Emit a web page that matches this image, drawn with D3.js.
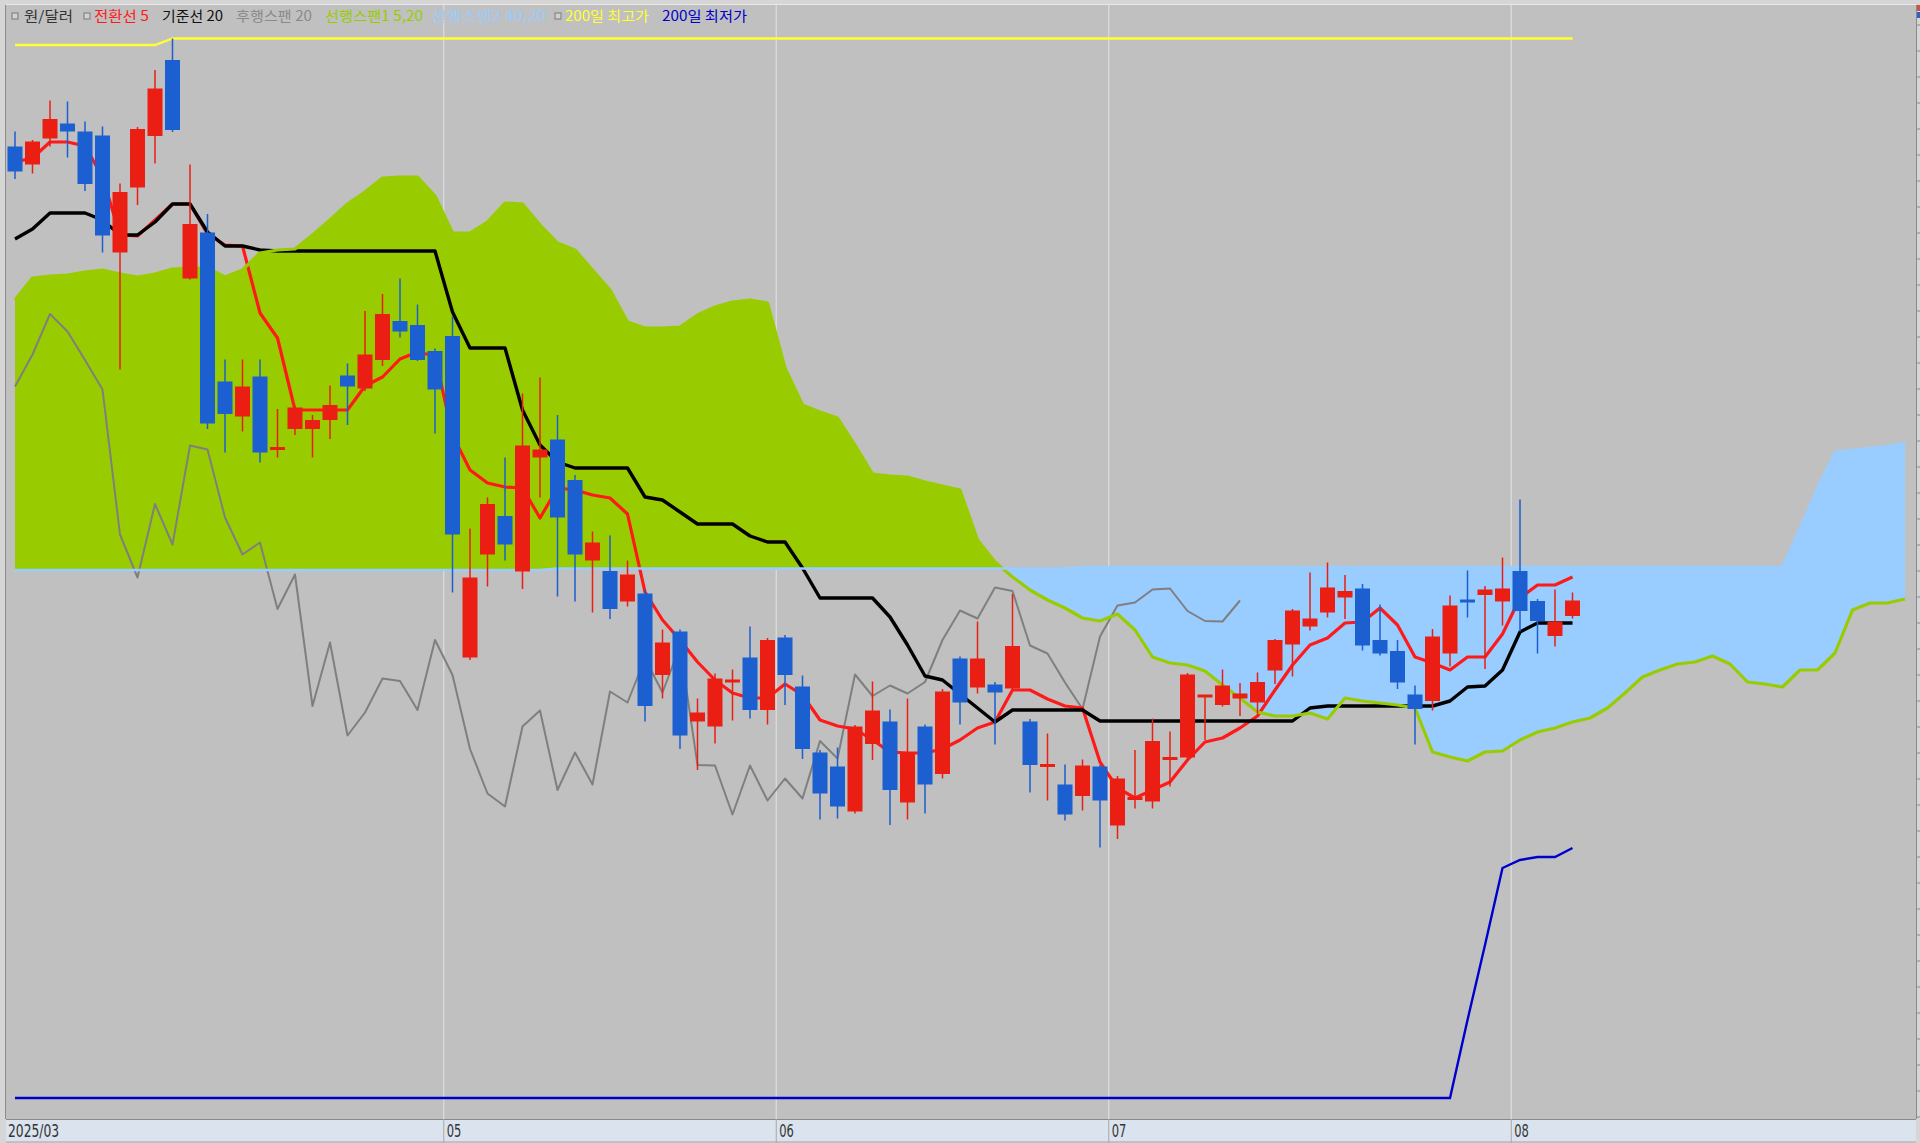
<!DOCTYPE html>
<html><head><meta charset="utf-8">
<script src="https://cdn.jsdelivr.net/npm/d3@7"></script>
<style>html,body{margin:0;padding:0;background:#d6d6d6;overflow:hidden}svg{display:block}</style>
</head><body><svg id="c" width="1920" height="1143"></svg>
<script>
// ---------------- DATA (USD/KRW daily) ----------------
const opens = [1471.9,1468.3,1473.5,1476.5,1474.9,1474.1,1450.7,1463.7,1474.0,1489.2,
1445.5,1454.7,1424.9,1417.9,1425.9,1411.0,1415.4,1415.4,1417.2,1426.1,
1423.5,1429.2,1437.0,1436.2,1431.0,1434.0,1369.7,1390.3,1398.0,1386.9,
1409.7,1413.3,1405.2,1389.1,1387.0,1380.9,1382.5,1366.2,1374.9,1356.9,
1355.9,1364.4,1369.7,1359.2,1373.7,1363.9,1350.7,1347.9,1338.9,1352.4,
1356.9,1340.7,1355.9,1346.4,1369.5,1363.7,1364.3,1363.5,1356.9,1347.7,
1344.3,1342.0,1347.9,1336.1,1340.9,1340.9,1349.0,1349.7,1361.5,1360.2,
1361.5,1360.7,1367.1,1372.3,1375.9,1378.7,1381.7,1383.5,1373.2,1371.0,
1362.3,1361.0,1370.5,1381.0,1382.2,1380.9,1387.0,1381.0,1374.0,1378.0];
const highs = [1474.9,1473.2,1481.1,1480.9,1476.9,1475.9,1464.5,1475.8,1487.2,1493.5,
1468.3,1458.4,1429.3,1429.3,1429.3,1419.4,1420.0,1418.2,1424.1,1428.5,
1439.0,1442.4,1445.5,1440.3,1431.5,1437.9,1395.5,1401.7,1409.7,1422.5,
1425.7,1418.2,1406.2,1394.9,1394.1,1389.1,1383.2,1375.3,1375.3,1361.5,
1366.5,1367.3,1375.9,1373.6,1374.2,1366.1,1351.2,1351.7,1356.2,1364.9,
1359.3,1361.5,1356.3,1363.4,1369.9,1376.9,1364.8,1382.4,1357.4,1354.5,
1348.3,1349.3,1348.2,1346.0,1351.2,1357.5,1354.9,1366.6,1362.2,1367.3,
1364.6,1366.7,1373.4,1379.4,1386.7,1388.7,1386.2,1384.4,1380.3,1373.2,
1364.1,1375.4,1382.1,1387.1,1384.0,1389.7,1401.3,1381.4,1383.3,1382.7];
const lows = [1465.4,1466.5,1471.9,1469.7,1463.0,1450.7,1427.3,1460.2,1468.5,1474.8,
1445.3,1415.4,1410.7,1414.9,1408.7,1409.7,1414.2,1409.7,1413.4,1416.2,
1423.0,1428.0,1433.7,1429.0,1414.5,1382.7,1369.2,1383.9,1389.1,1383.4,
1401.7,1381.9,1380.9,1378.7,1377.4,1379.9,1356.9,1361.5,1351.4,1347.2,
1352.5,1357.1,1357.5,1356.3,1360.2,1349.4,1337.3,1337.5,1338.5,1349.2,
1336.2,1337.3,1338.5,1345.5,1356.3,1362.5,1352.3,1363.2,1342.7,1341.1,
1337.1,1339.1,1331.7,1333.4,1339.5,1339.5,1343.9,1349.3,1353.2,1359.9,
1358.0,1358.5,1364.4,1365.9,1375.1,1377.7,1377.4,1371.1,1370.1,1363.4,
1352.3,1359.1,1367.9,1377.7,1367.4,1376.1,1374.9,1370.5,1371.9,1377.5];
const closes = [1466.9,1472.9,1477.4,1474.9,1464.4,1454.1,1462.8,1475.4,1483.5,1475.2,
1456.4,1416.5,1418.4,1423.9,1410.7,1411.5,1419.7,1417.2,1420.2,1423.9,
1430.3,1438.4,1434.9,1429.2,1423.3,1394.3,1385.7,1400.4,1392.3,1412.1,
1411.3,1397.7,1390.3,1392.7,1379.4,1386.3,1360.0,1372.7,1354.1,1358.7,
1365.5,1365.0,1359.2,1373.2,1366.2,1351.4,1342.5,1339.9,1355.9,1359.1,
1343.2,1350.7,1344.3,1362.9,1360.7,1369.5,1362.7,1372.0,1348.2,1348.1,
1338.3,1348.1,1341.1,1345.5,1341.5,1353.0,1349.5,1366.3,1362.0,1364.1,
1362.5,1364.8,1373.2,1379.1,1377.5,1383.7,1383.0,1372.1,1370.5,1364.7,
1359.4,1373.9,1380.1,1380.7,1383.3,1383.5,1379.0,1377.0,1376.9,1381.1];
// 전환선 5
const tenkan = [1468.8,1469.6,1472.8,1472.8,1472.0,1465.8,1454.2,1454.0,1457.2,1460.4,
1460.4,1454.4,1452.2,1452.0,1438.6,1433.6,1419.2,1419.2,1419.2,1419.2,
1424.0,1425.8,1429.4,1430.8,1430.0,1414.2,1407.2,1404.6,1403.8,1403.6,
1397.6,1403.6,1403.2,1402.2,1401.6,1398.4,1382.8,1377.2,1373.2,1368.8,
1365.2,1362.6,1361.6,1361.6,1364.4,1362.2,1357.2,1356.0,1355.4,1353.2,
1350.8,1350.6,1350.6,1351.4,1353.2,1355.6,1356.8,1363.2,1363.2,1361.4,
1360.0,1359.6,1348.8,1343.6,1341.6,1343.2,1344.8,1349.2,1352.8,1353.6,
1355.6,1358.0,1363.2,1368.2,1372.2,1373.6,1376.6,1376.8,1379.6,1376.2,
1369.8,1368.6,1367.2,1369.8,1369.8,1374.4,1381.6,1384.2,1384.2,1385.8];
// 기준선 20
const kijun = [1453.4,1455.4,1458.6,1458.6,1458.6,1457.2,1454.2,1454.2,1456.8,1460.4,
1460.4,1454.8,1452.0,1452.0,1451.2,1451.0,1451.0,1451.0,1451.0,1451.0,
1451.0,1451.0,1451.0,1451.0,1451.0,1438.8,1431.6,1431.6,1431.6,1419.2,
1412.2,1408.8,1407.6,1407.6,1407.6,1407.6,1401.8,1401.2,1398.8,1396.4,
1396.4,1396.4,1394.0,1392.8,1392.8,1387.6,1381.6,1381.6,1381.6,1381.6,
1377.8,1372.2,1366.0,1365.2,1362.4,1359.6,1356.8,1359.2,1359.2,1359.2,
1359.2,1359.2,1357.0,1357.0,1357.0,1357.0,1357.0,1357.0,1357.0,1357.0,
1357.0,1357.0,1357.0,1357.0,1359.6,1360.0,1360.0,1360.0,1360.0,1360.0,
1360.0,1360.0,1361.0,1363.8,1364.0,1367.2,1374.8,1376.6,1376.6,1376.6];
// 선행스팬1 (plotted 109 periods incl. forward shift)
const span1 = [1441.2,1445.6,1446.0,1446.2,1446.8,1447.2,1446.4,1445.8,1446.4,1447.4,
1447.6,1447.6,1445.8,1447.2,1450.6,1451.2,1451.4,1454.2,1457.2,1460.4,
1462.8,1465.6,1465.8,1465.8,1462.0,1454.6,1454.6,1456.8,1460.6,1460.4,
1456.2,1452.6,1451.2,1447.2,1443.2,1436.8,1435.6,1435.6,1435.8,1438.2,
1439.8,1440.8,1441.2,1440.6,1427.6,1420.2,1418.8,1417.6,1412.2,1406.4,
1406.0,1405.8,1404.8,1404.0,1403.2,1393.2,1388.8,1385.8,1383.2,1381.2,
1379.6,1377.6,1377.0,1378.4,1375.2,1369.8,1368.6,1368.2,1367.0,1364.2,
1361.6,1358.8,1358.0,1358.0,1358.6,1357.4,1361.6,1361.0,1360.6,1360.2,
1359.6,1350.8,1349.8,1349.0,1350.8,1351.0,1353.2,1354.8,1355.6,1356.8,
1357.6,1359.6,1362.6,1365.8,1367.2,1368.4,1368.8,1370.0,1368.4,1364.8,
1364.4,1363.8,1367.2,1367.2,1370.6,1379.2,1380.6,1380.6,1381.4];
// 선행스팬2
const span2 = [1387.2,1387.2,1387.2,1387.2,1387.2,1387.2,1387.2,1387.2,1387.2,1387.2,
1387.2,1387.2,1387.2,1387.2,1387.2,1387.2,1387.2,1387.2,1387.2,1387.2,
1387.2,1387.2,1387.2,1387.2,1387.2,1387.2,1387.2,1387.2,1387.2,1387.2,
1387.2,1387.5,1387.5,1387.5,1387.5,1387.5,1387.5,1387.5,1387.5,1387.5,
1387.5,1387.5,1387.5,1387.5,1387.5,1387.5,1387.5,1387.5,1387.5,1387.5,
1387.5,1387.5,1387.5,1387.5,1387.5,1387.5,1387.5,1387.5,1387.5,1387.5,
1387.5,1387.8,1387.8,1387.8,1387.8,1387.8,1387.8,1387.8,1387.8,1387.8,
1387.8,1387.8,1387.8,1387.8,1387.8,1387.8,1387.8,1387.8,1387.8,1387.8,
1387.8,1387.8,1387.8,1387.8,1387.8,1387.8,1387.8,1387.8,1387.8,1387.8,
1387.8,1387.8,1387.8,1387.8,1387.8,1387.8,1387.8,1387.8,1387.8,1387.8,
1387.8,1387.8,1395.6,1403.6,1410.8,1411.2,1411.6,1412.0,1412.6];
// 200일 최고가 / 최저가
const high200 = [1492.2,1492.2,1492.2,1492.2,1492.2,1492.2,1492.2,1492.2,1492.2,1493.5,
1493.5,1493.5,1493.5,1493.5,1493.5,1493.5,1493.5,1493.5,1493.5,1493.5,
1493.5,1493.5,1493.5,1493.5,1493.5,1493.5,1493.5,1493.5,1493.5,1493.5,
1493.5,1493.5,1493.5,1493.5,1493.5,1493.5,1493.5,1493.5,1493.5,1493.5,
1493.5,1493.5,1493.5,1493.5,1493.5,1493.5,1493.5,1493.5,1493.5,1493.5,
1493.5,1493.5,1493.5,1493.5,1493.5,1493.5,1493.5,1493.5,1493.5,1493.5,
1493.5,1493.5,1493.5,1493.5,1493.5,1493.5,1493.5,1493.5,1493.5,1493.5,
1493.5,1493.5,1493.5,1493.5,1493.5,1493.5,1493.5,1493.5,1493.5,1493.5,
1493.5,1493.5,1493.5,1493.5,1493.5,1493.5,1493.5,1493.5,1493.5,1493.5];
const low200 = [1281.6,1281.6,1281.6,1281.6,1281.6,1281.6,1281.6,1281.6,1281.6,1281.6,
1281.6,1281.6,1281.6,1281.6,1281.6,1281.6,1281.6,1281.6,1281.6,1281.6,
1281.6,1281.6,1281.6,1281.6,1281.6,1281.6,1281.6,1281.6,1281.6,1281.6,
1281.6,1281.6,1281.6,1281.6,1281.6,1281.6,1281.6,1281.6,1281.6,1281.6,
1281.6,1281.6,1281.6,1281.6,1281.6,1281.6,1281.6,1281.6,1281.6,1281.6,
1281.6,1281.6,1281.6,1281.6,1281.6,1281.6,1281.6,1281.6,1281.6,1281.6,
1281.6,1281.6,1281.6,1281.6,1281.6,1281.6,1281.6,1281.6,1281.6,1281.6,
1281.6,1281.6,1281.6,1281.6,1281.6,1281.6,1281.6,1281.6,1281.6,1281.6,
1281.6,1281.6,1281.6,1297.2,1312.2,1327.6,1329.2,1329.8,1329.8,1331.6];
const laggingShift = 19;   // 후행스팬: close plotted back
// x-axis month labels and index of first trading day of month
const monthLabels = ["2025/03","05","06","07","08"];
const monthStart  = [0,25,44,63,86];
// legend
const legendLabels = ["원/달러","전환선 5","기준선 20","후행스팬 20","선행스팬1 5,20","선행스팬2 40,20","200일 최고가","200일 최저가"];
const legendColors = ["#333333","#ff1a1a","#111111","#8a8a8a","#99cc00","#99ccff","#ffff33","#0000cc"];

// ---------------- LAYOUT ----------------
const svg = d3.select("#c");
const P = {left:6, right:1916, top:5, bottom:1119};
const nSlots = span1.length - 1;
const x = d3.scaleLinear().domain([0, nSlots]).range([15, 1905]);
const y = d3.scaleLinear().domain([1277.4, 1500]).range([P.bottom, 6]);
const step = x(1) - x(0);
const idx = n => d3.range(n);

svg.append("rect").attr("x",0).attr("y",0).attr("width",1920).attr("height",1143).attr("fill","#d6d6d6");
svg.append("rect").attr("x",P.left).attr("y",P.top).attr("width",P.right-P.left).attr("height",P.bottom-P.top)
  .attr("fill","#c0c0c0");

const defs = svg.append("defs");
defs.append("clipPath").attr("id","plotClip").append("rect")
  .attr("x",P.left).attr("y",P.top).attr("width",P.right-P.left).attr("height",P.bottom-P.top);
const g = svg.append("g").attr("clip-path","url(#plotClip)");

// vertical month grid lines
const gridX = monthStart.slice(1).map(i => x(i) - step/2);
g.selectAll("line.grid").data(gridX).join("line")
  .attr("x1",d=>d).attr("x2",d=>d).attr("y1",P.top).attr("y2",P.bottom)
  .attr("stroke","#dcdcdc").attr("stroke-width",1.3);

// ---- Ichimoku cloud ----
const ci = idx(span1.length);
defs.append("clipPath").attr("id","aboveS2").append("path")
  .attr("d", d3.area().x(i=>x(i)).y0(i=>y(span2[i])).y1(P.top)(ci));
defs.append("clipPath").attr("id","belowS2").append("path")
  .attr("d", d3.area().x(i=>x(i)).y0(i=>y(span2[i])).y1(P.bottom)(ci));
const between = d3.area().x(i=>x(i)).y0(i=>y(span2[i])).y1(i=>y(span1[i]));
g.append("g").attr("clip-path","url(#aboveS2)").append("path").attr("d",between(ci)).attr("fill","#99cc00");
g.append("g").attr("clip-path","url(#belowS2)").append("path").attr("d",between(ci)).attr("fill","#99ccff");

const lineOf = arr => d3.line().x((d,i)=>x(i)).y(d=>y(d))(arr);

// 후행스팬 (lagging)
const lag = closes.slice(laggingShift);
g.append("path").attr("d", lineOf(lag)).attr("fill","none").attr("stroke","#7f7f7f").attr("stroke-width",2).attr("stroke-linejoin","round");
// 전환선
g.append("path").attr("d", lineOf(tenkan)).attr("fill","none").attr("stroke","#ff1a1a").attr("stroke-width",3.2).attr("stroke-linejoin","round");
// 기준선
g.append("path").attr("d", lineOf(kijun)).attr("fill","none").attr("stroke","#000").attr("stroke-width",3.4).attr("stroke-linejoin","round");
// 선행스팬 lines
g.append("path").attr("d", lineOf(span1)).attr("fill","none").attr("stroke","#99cc00").attr("stroke-width",3.2).attr("stroke-linejoin","round");
g.append("path").attr("d", lineOf(span2)).attr("fill","none").attr("stroke","#99ccff").attr("stroke-width",2.6);
// 200일 최고/최저
g.append("path").attr("d", lineOf(high200)).attr("fill","none").attr("stroke","#ffff33").attr("stroke-width",2.4);
g.append("path").attr("d", lineOf(low200)).attr("fill","none").attr("stroke","#0000cc").attr("stroke-width",2.4);

// ---- candles ----
const up = "#ea1e12", dn = "#1b5fd0";
const cd = idx(opens.length);
const col = i => closes[i] >= opens[i] ? up : dn;
g.selectAll("line.wick").data(cd).join("line")
  .attr("x1",i=>x(i)).attr("x2",i=>x(i)).attr("y1",i=>y(highs[i])).attr("y2",i=>y(lows[i]))
  .attr("stroke",col).attr("stroke-width",1.5);
const bodyW = 15;
g.selectAll("rect.body").data(cd).join("rect")
  .attr("x",i=>x(i)-bodyW/2).attr("width",bodyW)
  .attr("y",i=>Math.min(y(opens[i]),y(closes[i])) - (Math.abs(y(opens[i])-y(closes[i]))<3 ? 1.5 : 0))
  .attr("height",i=>Math.max(3, Math.abs(y(opens[i])-y(closes[i]))))
  .attr("fill",col);

// plot border
svg.append("line").attr("x1",P.left-0.5).attr("x2",P.left-0.5).attr("y1",P.top).attr("y2",P.bottom).attr("stroke","#8c8c8c");
svg.append("line").attr("x1",P.left).attr("x2",P.right).attr("y1",P.top-0.5).attr("y2",P.top-0.5).attr("stroke","#e8e8e8");

// ---- legend ----
const legX = [24,94,162,236,325,431,565,662];
const legW = [49,55,61,76,98,115,84,85];
const boxX = [12,84,555];
svg.selectAll("rect.lb").data(boxX).join("rect")
  .attr("x",d=>d).attr("y",13).attr("width",6).attr("height",6)
  .attr("fill","#d0d0d0").attr("stroke","#7a7a7a").attr("stroke-width",1);
svg.selectAll("text.leg").data(legendLabels).join("text")
  .attr("x",(d,i)=>legX[i]).attr("y",21)
  .attr("textLength",(d,i)=>legW[i]).attr("lengthAdjust","spacingAndGlyphs")
  .attr("font-family","'Noto Sans CJK KR', 'Noto Sans', sans-serif").attr("font-size",14)
  .attr("fill",(d,i)=>legendColors[i]).text(d=>d);

// ---- x-axis band ----
svg.append("rect").attr("x",P.left).attr("y",P.bottom).attr("width",P.right-P.left).attr("height",1143-P.bottom)
  .attr("fill","#dae3ee");
svg.append("line").attr("x1",P.left).attr("x2",P.right).attr("y1",P.bottom+0.5).attr("y2",P.bottom+0.5).attr("stroke","#8a8a8a");
svg.append("line").attr("x1",P.left).attr("x2",P.right).attr("y1",1142).attr("y2",1142).attr("stroke","#a0a0a0");
svg.selectAll("line.tk").data(gridX).join("line")
  .attr("x1",d=>d).attr("x2",d=>d).attr("y1",P.bottom).attr("y2",1143).attr("stroke","#a8a8a8");
const labX = [P.left+2].concat(gridX.map(d=>d+3));
svg.selectAll("text.mon").data(monthLabels).join("text")
  .attr("x",(d,i)=>labX[i]).attr("y",1137)
  .attr("textLength",d=>d.length*7.3).attr("lengthAdjust","spacingAndGlyphs")
  .attr("font-family","'Liberation Sans Narrow','DejaVu Sans Condensed',sans-serif").attr("font-size",18)
  .attr("fill","#333").text(d=>d);

// ---- right axis strip ----
svg.append("rect").attr("x",P.right).attr("y",0).attr("width",4).attr("height",1143).attr("fill","#d6d6d6");
svg.append("line").attr("x1",P.right+0.5).attr("x2",P.right+0.5).attr("y1",P.top).attr("y2",P.bottom).attr("stroke","#8a8a8a");
svg.selectAll("line.rt").data(d3.range(P.top+20, P.bottom, 26)).join("line")
  .attr("x1",P.right).attr("x2",1920).attr("y1",d=>d).attr("y2",d=>d).attr("stroke","#8a8a8a");
svg.append("rect").attr("x",P.right+1).attr("y",5).attr("width",3).attr("height",6).attr("fill","#d05050");
svg.append("rect").attr("x",P.right+1).attr("y",12).attr("width",3).attr("height",6).attr("fill","#3060c0");
</script>
</body></html>
